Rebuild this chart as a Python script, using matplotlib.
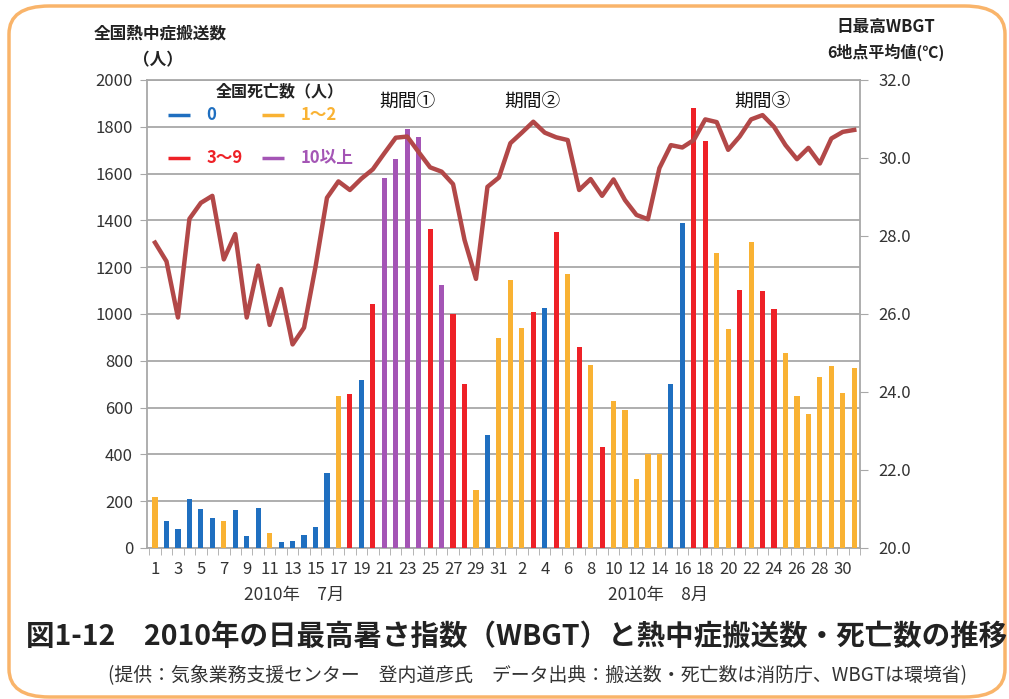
import matplotlib
matplotlib.use("Agg")
import matplotlib.pyplot as plt
from matplotlib.patches import FancyBboxPatch

plt.rcParams['font.family'] = ['Noto Sans CJK JP', 'DejaVu Sans']

# 日付ラベル (7/1〜8/31)
day_labels = [str(d) for d in range(1, 32)] + [str(d) for d in range(1, 32)]

# 全国熱中症搬送数（人）
transport_jul = [216, 114, 80, 211, 165, 129, 114, 161, 51, 169, 65, 26, 28, 55, 91, 319,
                 651, 658, 719, 1043, 1581, 1664, 1792, 1755, 1362, 1123, 999, 699, 247, 484, 896]
transport_aug = [1145, 939, 1007, 1027, 1349, 1172, 860, 781, 433, 627, 589, 294, 402, 402, 700, 1390,
                 1882, 1741, 1262, 937, 1104, 1306, 1097, 1020, 834, 650, 573, 729, 776, 661, 771]

# 全国死亡数の区分  0:"0"  1:"1〜2"  2:"3〜9"  3:"10以上"
death_jul = [1, 0, 0, 0, 0, 0, 1, 0, 0, 0, 1, 0, 0, 0, 0, 0,
             1, 2, 0, 2, 3, 3, 3, 3, 2, 3, 2, 2, 1, 0, 1]
death_aug = [1, 1, 2, 0, 2, 1, 2, 1, 2, 1, 1, 1, 1, 1, 0, 0,
             2, 2, 1, 1, 2, 1, 2, 2, 1, 1, 1, 1, 1, 1, 1]

# 日最高WBGT 6地点平均値（℃）
wbgt_jul = [27.83, 27.35, 25.91, 28.44, 28.85, 29.03, 27.40, 28.05, 25.91, 27.24, 25.72, 26.64,
            25.22, 25.65, 27.21, 28.98, 29.40, 29.18, 29.47, 29.71, 30.12, 30.52, 30.55, 30.15,
            29.76, 29.65, 29.33, 27.90, 26.90, 29.26, 29.50]
wbgt_aug = [30.38, 30.65, 30.93, 30.65, 30.53, 30.46, 29.18, 29.46, 29.03, 29.45, 28.92, 28.54,
            28.43, 29.74, 30.33, 30.27, 30.46, 30.99, 30.92, 30.21, 30.55, 30.99, 31.10, 30.80,
            30.33, 29.97, 30.26, 29.86, 30.50, 30.67, 30.72]

death_labels = ['0', '1〜2', '3〜9', '10以上']
death_colors = ['#1f6fc0', '#f9b233', '#ee2127', '#a455b5']
line_color = '#b24848'
grid_color = '#a8a8a8'
text_color = '#333333'

transport = transport_jul + transport_aug
deaths = death_jul + death_aug
wbgt = wbgt_jul + wbgt_aug
x = list(range(1, len(transport) + 1))

W, H = 1009, 699
fig = plt.figure(figsize=(W / 100, H / 100), dpi=100)


def fx(px):
    return px / W


def fy(py):
    return 1 - py / H


# オレンジの枠
frame = FancyBboxPatch((fx(9), fy(697)), fx(996), fy(6) - fy(697),
                       boxstyle="round,pad=0,rounding_size=0.04",
                       transform=fig.transFigure, fill=False,
                       edgecolor='#f9b46a', linewidth=2.5)
fig.patches.append(frame)

ax = fig.add_axes([fx(147), fy(548), fx(860) - fx(147), fy(80) - fy(548)])

ax.bar(x, transport, width=0.45, color=[death_colors[d] for d in deaths], zorder=3)

ax.set_xlim(0.3, 62.45)
ax.set_ylim(0, 2000)
ax.set_yticks(range(0, 2001, 200))
ax.grid(axis='y', color=grid_color, linewidth=1.3, zorder=0)

ax.set_xticks(x[::2])
ax.set_xticklabels(day_labels[::2])
ax.set_xticks([i + 0.5 for i in range(0, 63)], minor=True)
ax.tick_params(axis='x', which='major', length=0, pad=9, labelsize=12, colors=text_color)
ax.tick_params(axis='x', which='minor', length=5, color=grid_color)
ax.tick_params(axis='y', length=5, color=grid_color, pad=5, labelsize=12, colors=text_color)
for s in ax.spines.values():
    s.set_color(grid_color)
    s.set_linewidth(1.3)

ax2 = ax.twinx()
ax2.plot(x, wbgt, color=line_color, linewidth=3.2, solid_joinstyle='round', zorder=4)
ax2.set_ylim(20, 32)
ax2.set_yticks(range(20, 33, 2))
ax2.set_yticklabels([f'{v:.1f}' for v in range(20, 33, 2)])
ax2.tick_params(axis='y', length=6, color=grid_color, pad=7, labelsize=12, colors=text_color)
for s in ax2.spines.values():
    s.set_visible(False)

# 凡例（全国死亡数）
ax.text(0.1865, 0.976, '全国死亡数（人）', transform=ax.transAxes, ha='center', va='center',
        fontsize=11.5, weight='bold', color='#222222', zorder=6)
legend_pos = [(0.0295, 0.926), (0.1613, 0.926), (0.0295, 0.834), (0.1613, 0.834)]
for (lx, ly), lab, col in zip(legend_pos, death_labels, death_colors):
    ax.plot([lx, lx + 0.031], [ly, ly], transform=ax.transAxes, color=col, linewidth=2.5,
            solid_capstyle='butt', zorder=6)
    ax.text(lx + 0.054, ly, lab, transform=ax.transAxes, ha='left', va='center',
            fontsize=12, weight='bold', color=col, zorder=6)

# 期間ラベル
for label, pos in [('期間①', 23.0), ('期間②', 33.9), ('期間③', 54.0)]:
    ax.text(pos, 1905, label, ha='center', va='center', fontsize=13.5, color='#111111', zorder=6)

# 軸タイトル
fig.text(fx(160), fy(34), '全国熱中症搬送数', ha='center', va='center', fontsize=12, weight='bold', color='#222222')
fig.text(fx(158), fy(60), '（人）', ha='center', va='center', fontsize=12, weight='bold', color='#222222')
fig.text(fx(886), fy(27), '日最高WBGT', ha='center', va='center', fontsize=12, weight='bold', color='#222222')
fig.text(fx(886), fy(52), '6地点平均値(℃)', ha='center', va='center', fontsize=11.5, weight='bold', color='#222222')

# 月ラベル
fig.text(fx(294), fy(595), '2010年　7月', ha='center', va='center', fontsize=12.5, color=text_color)
fig.text(fx(658), fy(595), '2010年　8月', ha='center', va='center', fontsize=12.5, color=text_color)

# 図タイトル・出典
fig.text(fx(517), fy(637), '図1-12　2010年の日最高暑さ指数（WBGT）と熱中症搬送数・死亡数の推移',
         ha='center', va='center', fontsize=20.5, weight='bold', color='#222222')
fig.text(fx(537), fy(676), '(提供：気象業務支援センター　登内道彦氏　データ出典：搬送数・死亡数は消防庁、WBGTは環境省)',
         ha='center', va='center', fontsize=13.6, color=text_color)

fig.savefig('out.png', dpi=100)
